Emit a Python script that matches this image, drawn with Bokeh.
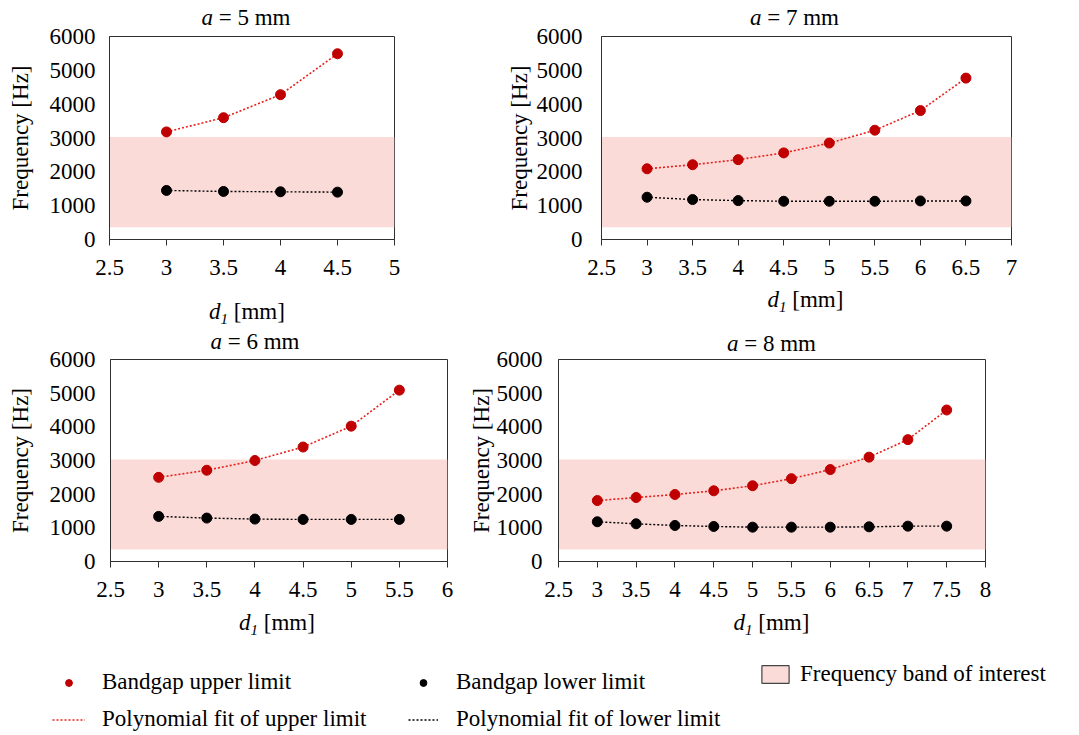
from bokeh.plotting import figure
from bokeh.layouts import column, row
from bokeh.models import (Range1d, Legend, LegendItem, ColumnDataSource, Div,
                          FixedTicker, BoxAnnotation, NumeralTickFormatter)
from bokeh.embed import file_html
from bokeh.resources import INLINE

# ---------------- data ----------------
d1_a5 = [3, 3.5, 4, 4.5]
upper_a5 = [3180, 3600, 4280, 5490]
lower_a5 = [1450, 1420, 1410, 1400]

d1_a7 = [3, 3.5, 4, 4.5, 5, 5.5, 6, 6.5]
upper_a7 = [2090, 2210, 2360, 2560, 2850, 3230, 3810, 4770]
lower_a7 = [1250, 1180, 1150, 1130, 1130, 1130, 1140, 1140]

d1_a6 = [3, 3.5, 4, 4.5, 5, 5.5]
upper_a6 = [2500, 2710, 3000, 3400, 4020, 5090]
lower_a6 = [1340, 1290, 1260, 1250, 1250, 1250]

d1_a8 = [3, 3.5, 4, 4.5, 5, 5.5, 6, 6.5, 7, 7.5]
upper_a8 = [1810, 1900, 1990, 2100, 2250, 2460, 2730, 3100, 3620, 4500]
lower_a8 = [1180, 1120, 1070, 1040, 1020, 1020, 1020, 1030, 1050, 1050]

band_low = 360
band_high = 3030

y_ticks = [0, 1000, 2000, 3000, 4000, 5000, 6000]
x_start = 2.5
x_end_a5, x_end_a7, x_end_a6, x_end_a8 = 5, 7, 6, 8

# ---------------- style ----------------
FONT = "Liberation Serif"
FS = "23px"
RED_PT = "#c00000"
RED_LN = "#e8201c"
BLACK = "#000000"
BAND = "#fadbd8"
EDGE = "#303030"


def text_div(html, width, height, pad_top, dx, line_h=26):
    inner = ('<div style="width:%dpx;text-align:center;white-space:nowrap;'
             'font-family:\'Liberation Serif\',serif;font-size:23px;color:#000;'
             'line-height:%dpx;padding-top:%dpx;">'
             '<span style="position:relative;left:%dpx;">%s</span></div>'
             % (width, line_h, pad_top, dx, html))
    return Div(text=inner, width=width, height=height, margin=0,
               styles={"overflow": "visible"})


def panel(xs, up, lo, x_end, width, height, left, right, top, bottom,
          ylab_standoff, ylab_gap):
    p = figure(width=width, height=height,
               x_range=Range1d(x_start, x_end), y_range=Range1d(0, 6000),
               output_backend="svg", toolbar_location=None,
               min_border_left=left, min_border_right=right,
               min_border_top=top, min_border_bottom=bottom,
               background_fill_color="white", border_fill_alpha=0)
    p.outline_line_color = EDGE
    p.outline_line_width = 1
    p.grid.visible = False

    band = BoxAnnotation(bottom=band_low, top=band_high, fill_color=BAND,
                         fill_alpha=1.0, line_color=None, level="underlay")
    p.add_layout(band)

    p.line(xs, up, line_color=RED_LN, line_width=1.6, line_dash="2 2")
    p.line(xs, lo, line_color=BLACK, line_width=1.4, line_dash="2 2")
    p.scatter(xs, up, size=10, fill_color=RED_PT, line_color=RED_PT)
    p.scatter(xs, lo, size=10, fill_color=BLACK, line_color=BLACK)

    ticks = [x_start + 0.5 * i for i in range(int((x_end - x_start) / 0.5) + 1)]
    p.xaxis.ticker = FixedTicker(ticks=ticks)
    p.xaxis.formatter = NumeralTickFormatter(format="0.[0]")
    p.yaxis.ticker = FixedTicker(ticks=y_ticks)

    for ax in (p.xaxis[0], p.yaxis[0]):
        ax.axis_line_color = EDGE
        ax.axis_line_width = 1
        ax.major_label_text_font = FONT
        ax.major_label_text_font_size = FS
        ax.major_label_text_color = "black"
        ax.minor_tick_line_color = None
        ax.axis_label_text_font = FONT
        ax.axis_label_text_font_size = FS
        ax.axis_label_text_font_style = "normal"
        ax.axis_label_text_color = "black"
    p.xaxis.major_tick_in = 0
    p.xaxis.major_tick_out = 6
    p.xaxis.major_tick_line_color = EDGE
    p.xaxis.major_label_standoff = 14
    p.yaxis.major_tick_in = 0
    p.yaxis.major_tick_out = 0
    p.yaxis.major_label_standoff = ylab_standoff
    p.yaxis.axis_label = "Frequency [Hz]"
    p.yaxis.axis_label_standoff = ylab_gap
    return p


XLAB = '<i>d</i><sub style="font-size:15px;line-height:0;vertical-align:-5px;"><i>1</i></sub> [mm]'

# row 1 ------------------------------------------------------------
p1 = panel(d1_a5, upper_a5, lower_a5, x_end_a5, 470, 266, 109, 76, 15, 48, 14, 14)
p2 = panel(d1_a7, upper_a7, lower_a7, x_end_a7, 609, 266, 131, 68, 15, 48, 19, 2)
c1 = column(text_div("<i>a</i> = 5 mm", 470, 21, 5, 11), p1,
            text_div(XLAB, 470, 43, 12, 12), spacing=0)
c2 = column(text_div("<i>a</i> = 7 mm", 609, 21, 5, 20), p2,
            text_div(XLAB, 609, 43, 0, 31), spacing=0)

# row 2 ------------------------------------------------------------
p3 = panel(d1_a6, upper_a6, lower_a6, x_end_a6, 460, 265, 110, 13, 15, 48, 15, 14)
p4 = panel(d1_a8, upper_a8, lower_a8, x_end_a8, 619, 265, 98, 94, 15, 48, 16, 0)
c3 = column(text_div("<i>a</i> = 6 mm", 460, 14, 0, 25, 24), p3,
            text_div(XLAB, 460, 31, 1, 47), spacing=0)
c4 = column(text_div("<i>a</i> = 8 mm", 619, 14, 2, 2, 24), p4,
            text_div(XLAB, 619, 31, 1, 2), spacing=0)

# ---------------- legend ----------------
leg = figure(width=1079, height=95, x_range=Range1d(0, 1), y_range=Range1d(0, 1),
             x_axis_type=None, y_axis_type=None, output_backend="svg",
             toolbar_location=None, min_border=0)
leg.outline_line_color = None
leg.grid.visible = False
# legend sample renderers reuse the first values of the series; they lie outside
# this figure's visible range, so only their legend swatches are seen
src_up = ColumnDataSource(dict(x=d1_a5[:1], y=upper_a5[:1]))
src_lo = ColumnDataSource(dict(x=d1_a5[:1], y=lower_a5[:1]))
src_bd = ColumnDataSource(dict(l=[x_start], r=[x_end_a5], t=[band_high], b=[band_low]))
r_up = leg.scatter("x", "y", source=src_up, size=7, fill_color=RED_PT, line_color=RED_PT)
r_lo = leg.scatter("x", "y", source=src_lo, size=7, fill_color=BLACK, line_color=BLACK)
r_fu = leg.line("x", "y", source=src_up, line_color=RED_LN, line_width=1.6, line_dash="2 2")
r_fl = leg.line("x", "y", source=src_lo, line_color=BLACK, line_width=1.4, line_dash="2 2")
r_bd = leg.quad(left="l", right="r", top="t", bottom="b", source=src_bd,
                fill_color=BAND, line_color="#444444", line_width=1.2)


def make_legend(items, loc, gw, gh, lh, standoff, spacing):
    lg = Legend(items=items, location=loc, orientation="vertical",
                glyph_width=gw, glyph_height=gh, label_height=lh,
                label_standoff=standoff, spacing=spacing, padding=0, margin=0,
                border_line_color=None, background_fill_alpha=0,
                label_text_font=FONT, label_text_font_size=FS,
                label_text_color="black")
    leg.add_layout(lg)
    return lg


make_legend([LegendItem(label="Bandgap upper limit", renderers=[r_up]),
             LegendItem(label="Polynomial fit of upper limit", renderers=[r_fu])],
            (52, 1), 33, 17, 30, 17, 7)
make_legend([LegendItem(label="Bandgap lower limit", renderers=[r_lo]),
             LegendItem(label="Polynomial fit of lower limit", renderers=[r_fl])],
            (408, 1), 30, 17, 30, 18, 7)
make_legend([LegendItem(label="Frequency band of interest", renderers=[r_bd])],
            (758, 48), 34, 22, 22, 8, 0)

layout = column(row(c1, c2, spacing=0), row(c3, c4, spacing=0), leg, spacing=0)

open("out.html", "w").write(file_html(layout, INLINE))
